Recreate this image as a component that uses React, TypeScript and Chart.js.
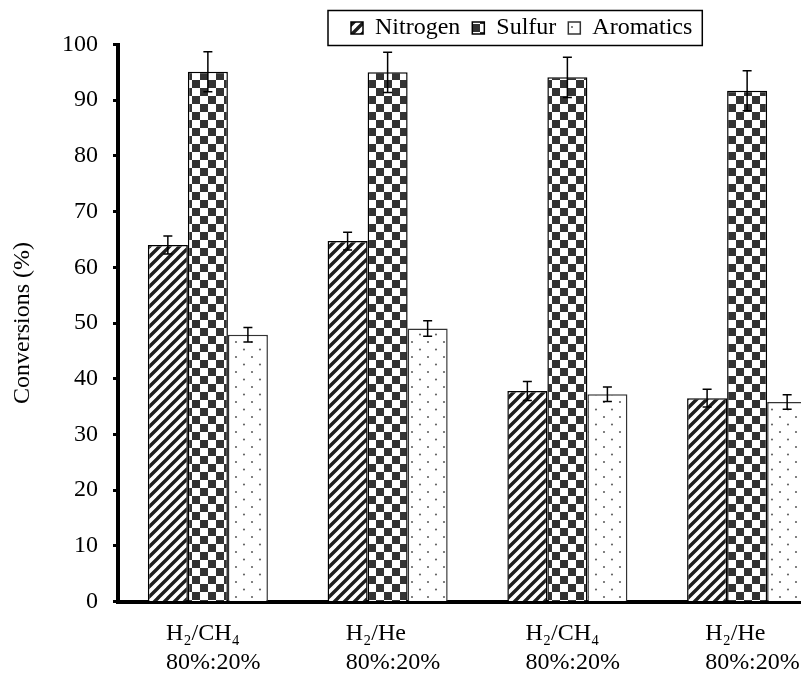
import React, { useEffect, useRef } from 'react';
import { Chart, registerables } from 'chart.js';

Chart.register(...registerables);

// ---- data ----
const categories: string[][] = [
  ['H₂/CH₄', '80%:20%'],
  ['H₂/He', '80%:20%'],
  ['H₂/CH₄', '80%:20%'],
  ['H₂/He', '80%:20%'],
];
const seriesNames = ['Nitrogen', 'Sulfur', 'Aromatics'];
const nitrogen = [64.0, 64.7, 37.8, 36.5];
const nitrogenErr = [1.6, 1.6, 1.7, 1.6];
const sulfur = [95.1, 95.0, 94.1, 91.7];
const sulfurErr = [3.6, 3.6, 3.6, 3.6];
const aromatics = [47.9, 49.0, 37.2, 35.8];
const aromaticsErr = [1.3, 1.4, 1.3, 1.3];
const yMin = 0;
const yMax = 100;
const yStep = 10;
const yTitle = 'Conversions (%)';

const FONT = "'Liberation Serif', 'Times New Roman', serif";

function makeTile(kind: string): HTMLCanvasElement {
  const c = document.createElement('canvas');
  const ctx = c.getContext('2d')!;
  if (kind === 'stripe') {
    c.width = 10; c.height = 10;
    ctx.fillStyle = '#fff';
    ctx.fillRect(0, 0, 10, 10);
    ctx.strokeStyle = '#1e1e1e';
    ctx.lineWidth = 3.4;
    ctx.beginPath();
    for (const k of [-10, 0, 10]) {
      ctx.moveTo(k - 1, 11);
      ctx.lineTo(k + 11, -1);
    }
    ctx.stroke();
  } else if (kind === 'checker') {
    c.width = 16; c.height = 16;
    ctx.fillStyle = '#fff';
    ctx.fillRect(0, 0, 16, 16);
    ctx.fillStyle = '#333';
    ctx.fillRect(0, 0, 8, 8);
    ctx.fillRect(8, 8, 8, 8);
  } else {
    c.width = 16; c.height = 15;
    ctx.fillStyle = '#fff';
    ctx.fillRect(0, 0, 16, 15);
    ctx.fillStyle = '#666';
    ctx.beginPath();
    ctx.arc(4, 4, 1.1, 0, Math.PI * 2);
    ctx.arc(12, 11.5, 1.1, 0, Math.PI * 2);
    ctx.fill();
  }
  return c;
}

const LEGEND_START = 343;
const LEGEND_DY = -4;

const legendPlacePlugin = {
  id: 'legendPlace',
  afterLayout(chart: any) {
    const lg = chart.legend;
    if (!lg || !lg.lineWidths) return;
    const p = lg.options.labels.padding;
    const lw = lg.lineWidths[0];
    const cur = (lg.left + p + lg.right - lw) / 2;
    const dx = LEGEND_START - cur;
    lg.left += dx;
    lg.right += dx;
    lg.top += LEGEND_DY;
    lg.bottom += LEGEND_DY;
  },
  afterDraw(chart: any) {
    const lg = chart.legend;
    const hb = lg && lg.legendHitBoxes;
    if (!hb || !hb.length) return;
    const first = hb[0];
    const last = hb[hb.length - 1];
    const left = first.left - 23;
    const right = last.left + last.width + 10;
    const cy = first.top + first.height / 2;
    const ctx = chart.ctx;
    ctx.save();
    ctx.strokeStyle = '#000';
    ctx.lineWidth = 1.5;
    ctx.strokeRect(left, cy - 17.5, right - left, 35);
    ctx.restore();
  },
};

const errorBarPlugin = {
  id: 'errorBars',
  afterDatasetsDraw(chart: any) {
    const ctx = chart.ctx;
    const y = chart.scales.y;
    chart.data.datasets.forEach((ds: any, i: number) => {
      const meta = chart.getDatasetMeta(i);
      meta.data.forEach((bar: any, j: number) => {
        const v = ds.data[j];
        const e = ds.errors[j];
        const top = y.getPixelForValue(v + e);
        const bot = y.getPixelForValue(v - e);
        ctx.save();
        ctx.strokeStyle = '#000';
        ctx.lineWidth = 1.5;
        ctx.beginPath();
        ctx.moveTo(bar.x, top);
        ctx.lineTo(bar.x, bot);
        ctx.moveTo(bar.x - 4.5, top);
        ctx.lineTo(bar.x + 4.5, top);
        ctx.moveTo(bar.x - 4.5, bot);
        ctx.lineTo(bar.x + 4.5, bot);
        ctx.stroke();
        ctx.restore();
      });
    });
  },
};

export default function App() {
  const ref = useRef<HTMLCanvasElement | null>(null);
  useEffect(() => {
    document.documentElement.style.overflow = 'hidden';
    document.body.style.overflow = 'hidden';
    const canvas = ref.current!;
    const ctx = canvas.getContext('2d')!;
    const stripe = ctx.createPattern(makeTile('stripe'), 'repeat');
    const checker = ctx.createPattern(makeTile('checker'), 'repeat');
    const dots = ctx.createPattern(makeTile('dots'), 'repeat');
    const chart = new Chart(canvas, {
      type: 'bar',
      data: {
        labels: categories,
        datasets: [
          { label: seriesNames[0], data: nitrogen, errors: nitrogenErr, backgroundColor: stripe, borderColor: '#000', borderWidth: 1.5 } as any,
          { label: seriesNames[1], data: sulfur, errors: sulfurErr, backgroundColor: checker, borderColor: '#000', borderWidth: 1.5 } as any,
          { label: seriesNames[2], data: aromatics, errors: aromaticsErr, backgroundColor: dots, borderColor: '#333', borderWidth: 1.5 } as any,
        ],
      },
      options: {
        responsive: false,
        animation: false,
        devicePixelRatio: 1,
        layout: { padding: { top: 0, right: 11, bottom: 0, left: 0 } },
        datasets: { bar: { barPercentage: 1, categoryPercentage: 0.668 } },
        plugins: {
          tooltip: { enabled: false },
          legend: {
            position: 'top',
            maxHeight: 36.5,
            labels: {
              boxWidth: 12,
              boxHeight: 12,
              padding: 12,
              color: '#000',
              font: { family: FONT, size: 24 },
            },
          },
        },
        scales: {
          x: {
            grid: { display: false },
            border: { display: true, color: '#000', width: 4 },
            ticks: {
              color: '#000',
              font: { family: FONT, size: 24, lineHeight: 1.2 },
              align: 'start',
              labelOffset: -42,
              padding: 10,
              maxRotation: 0,
              autoSkip: false,
            },
            afterFit: (s: any) => { s.paddingLeft = 0; s.paddingRight = 0; s.height = 73.5; },
          },
          y: {
            min: yMin,
            max: yMax,
            ticks: { stepSize: yStep, color: '#000', padding: 15, font: { family: FONT, size: 24 } },
            grid: { display: true, drawOnChartArea: false, drawTicks: true, tickLength: 5, tickWidth: 3, tickColor: '#000' },
            border: { display: true, color: '#000', width: 4 },
            title: { display: true, text: yTitle, color: '#000', padding: 0, font: { family: FONT, size: 24, lineHeight: 1.2 } },
            afterFit: (s: any) => { s.width = 110; },
          },
        },
      } as any,
      plugins: [legendPlacePlugin, errorBarPlugin],
    });
    return () => chart.destroy();
  }, []);
  return (
    <div style={{ width: 801, height: 665, overflow: 'hidden' }}>
      <canvas ref={ref} width={840} height={667} style={{ display: 'block' }} />
    </div>
  );
}
